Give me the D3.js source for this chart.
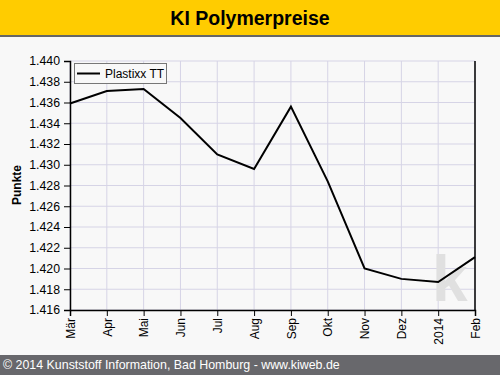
<!DOCTYPE html>
<html><head><meta charset="utf-8">
<script src="https://cdn.jsdelivr.net/npm/d3@7"></script>
<style>body{margin:0;background:#f8f8f8;}svg{display:block;font-family:"Liberation Sans",Arial,sans-serif;}</style>
</head><body>
<script>
const months = ["Mär","Apr","Mai","Jun","Jul","Aug","Sep","Okt","Nov","Dez","2014","Feb"];
const values = [1.4359,1.4371,1.4373,1.4345,1.4310,1.4296,1.4356,1.4284,1.4200,1.4190,1.4187,1.4211];
const yTicks = [1.416,1.418,1.420,1.422,1.424,1.426,1.428,1.430,1.432,1.434,1.436,1.438,1.440];
const seriesName = "Plastixx TT";
const title = "KI Polymerpreise";
const yLabel = "Punkte";
const footer = "© 2014 Kunststoff Information, Bad Homburg - www.kiweb.de";

const W=500,H=375;
const svg=d3.select("body").append("svg").attr("width",W).attr("height",H);
svg.append("rect").attr("width",W).attr("height",H).attr("fill","#f8f8f8");
// title bar
svg.append("rect").attr("x",0).attr("y",0).attr("width",W).attr("height",35).attr("fill","#ffcc00");
svg.append("rect").attr("x",0).attr("y",35).attr("width",W).attr("height",2).attr("fill","#666");
svg.append("text").attr("x",W/2).attr("y",25).attr("text-anchor","middle").attr("font-size",19.5).attr("font-weight","bold").attr("fill","#000").text(title);
// footer
svg.append("rect").attr("x",0).attr("y",355).attr("width",W).attr("height",20).attr("fill","#68686c");
svg.append("text").attr("x",3).attr("y",369).attr("font-size",12.4).attr("fill","#fff").text(footer);

const x=d3.scalePoint().domain(months).range([70,475]);
const y=d3.scaleLinear().domain([1.416,1.440]).range([310,61]);

// grid
const g=svg.append("g");
g.selectAll(".vg").data(months).join("line").attr("x1",d=>x(d)).attr("x2",d=>x(d)).attr("y1",61).attr("y2",310).attr("stroke","#d6d4e6").attr("stroke-width",1);
g.selectAll(".hg").data(yTicks).join("line").attr("x1",70).attr("x2",475).attr("y1",d=>y(d)).attr("y2",d=>y(d)).attr("stroke","#d6d4e6").attr("stroke-width",1);

// watermark
svg.append("text").attr("x",432).attr("y",301).attr("font-size",64).attr("font-weight","bold").attr("fill","#e0e0e0").text("k");

// axes
const ya=svg.append("g").attr("transform","translate(70,0)").call(d3.axisLeft(y).tickValues(yTicks).tickSize(6).tickFormat(d=>d3.format(".3f")(d)));
ya.selectAll("text").attr("font-size",12.3).attr("fill","#000").attr("font-family","Liberation Sans, Arial, sans-serif").attr("dx","-1");
ya.select(".domain").attr("stroke","#000").attr("stroke-width",1.5);
ya.selectAll(".tick line").attr("stroke","#000");
const xa=svg.append("g").attr("transform","translate(0,310)").call(d3.axisBottom(x).tickSize(6));
xa.selectAll("text").attr("font-size",12).attr("fill","#000").attr("font-family","Liberation Sans, Arial, sans-serif")
  .attr("transform","rotate(-90)").attr("text-anchor","end").attr("x",-8).attr("y",0).attr("dy","0.35em");
xa.select(".domain").attr("stroke","#000").attr("stroke-width",1.5);
xa.selectAll(".tick line").attr("stroke","#000");
// right border
svg.append("line").attr("x1",475).attr("x2",475).attr("y1",61).attr("y2",310).attr("stroke","#000").attr("stroke-width",1.5);

// line
svg.append("path").datum(values.map((v,i)=>[months[i],v]))
  .attr("d",d3.line().x(d=>x(d[0])).y(d=>y(d[1])))
  .attr("fill","none").attr("stroke","#000").attr("stroke-width",2);

// legend
svg.append("rect").attr("x",74.5).attr("y",63.5).attr("width",92).attr("height",20).attr("fill","#f8f8f8").attr("stroke","#777");
svg.append("line").attr("x1",77).attr("x2",100).attr("y1",73.5).attr("y2",73.5).attr("stroke","#000").attr("stroke-width",2);
svg.append("text").attr("x",105).attr("y",78).attr("font-size",12).attr("fill","#000").text(seriesName);

// y label
svg.append("text").attr("transform","translate(21,185) rotate(-90)").attr("text-anchor","middle").attr("font-size",12).attr("font-weight","bold").attr("fill","#000").text(yLabel);
</script>
</body></html>
